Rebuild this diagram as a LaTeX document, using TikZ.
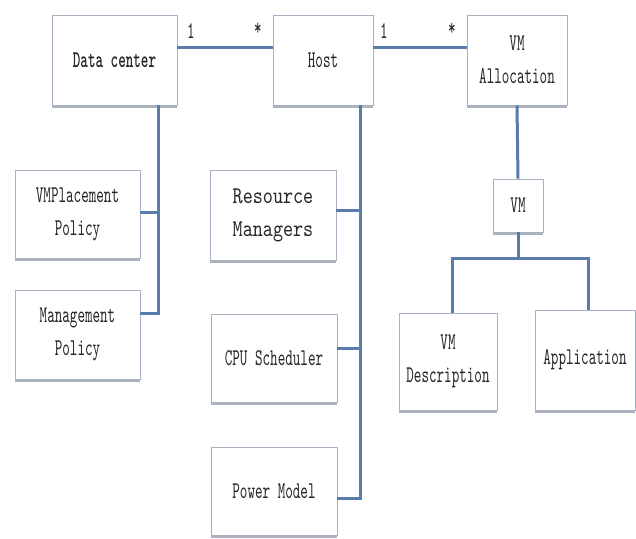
\documentclass[tikz,border=0pt]{standalone}
\usepackage{fontspec}
\usetikzlibrary{shadows}
\newfontfamily\boxfamily[FakeStretch=0.6,BoldFont=lmmonolt10-bold.otf]{lmmono10-regular.otf}
\newfontfamily\wideboxfamily[FakeStretch=0.8]{lmmono10-regular.otf}
\newcommand\boxfont{\boxfamily\fontsize{24}{33}\selectfont}
\newcommand\wideboxfont{\wideboxfamily\fontsize{24}{33}\selectfont}
\definecolor{linkblue}{RGB}{88,125,172}
\definecolor{edgegray}{RGB}{168,178,194}
\begin{document}
\begin{tikzpicture}[
    x=1pt,y=-1pt,
    unit/.style={draw=edgegray,fill=white,line width=0.8pt,inner sep=0pt,
      align=center,text=black!85,font=\boxfont,
      drop shadow={shadow xshift=0pt,shadow yshift=-2.5pt,fill=edgegray!90!black,opacity=0.8}},
    mult/.style={inner sep=0pt,text=black!85,font=\boxfont},
    link/.style={draw=linkblue,line width=3pt}
    ]
    \useasboundingbox (0,0) rectangle (636,538);

    % top row
    \node[unit,minimum width=125,minimum height=90,font=\boxfont\bfseries] (dc) at (114.5,60) {Data center};
    \node[unit,minimum width=100,minimum height=90] (host) at (323,60) {Host};
    \node[unit,minimum width=100,minimum height=90] (alloc) at (517,60) {VM\\Allocation};

    % data center parts
    \node[unit,minimum width=125,minimum height=88] (vmp) at (77.5,214) {VMPlacement\\Policy};
    \node[unit,minimum width=125,minimum height=89] (mgmt) at (77.5,334.5) {Management\\Policy};

    % host parts
    \node[unit,minimum width=126,minimum height=90,font=\wideboxfont] (res) at (273,215) {Resource\\Managers};
    \node[unit,minimum width=126,minimum height=88] (cpu) at (274,358) {CPU Scheduler};
    \node[unit,minimum width=126,minimum height=88] (power) at (274,491) {Power Model};

    % vm
    \node[unit,minimum width=50,minimum height=53] (vm) at (518,205.5) {VM};
    \node[unit,minimum width=98,minimum height=97] (vmdesc) at (448,361.5) {VM\\Description};
    \node[unit,minimum width=100,minimum height=100] (app) at (585,360) {Application};

    % multiplicities
    \node[mult] (m1) at (191,31) {1};
    \node[mult] (m2) at (258,29) {*};
    \node[mult] (m3) at (384,31) {1};
    \node[mult] (m4) at (452,29) {*};

    \coordinate (dctrunk) at (158,313);
    \coordinate (hosttrunk) at (360,498);
    \coordinate (vmfork) at (518,258);

    % associations
    \draw[link] ([yshift=13pt]dc.east) -- ([yshift=13pt]host.west);
    \draw[link] ([yshift=13pt]host.east) -- ([yshift=13pt]alloc.west);

    \draw[link] ([xshift=43.5pt]dc.south) -- (dctrunk) -- (dctrunk -| mgmt.east);
    \draw[link] ([yshift=2pt]vmp.east) -- ([yshift=2pt]vmp.east -| dctrunk);

    \draw[link] ([xshift=37pt]host.south) -- (hosttrunk) -- (hosttrunk -| power.east);
    \draw[link] ([yshift=5pt]res.east) -- ([yshift=5pt]res.east -| hosttrunk);
    \draw[link] ([yshift=10pt]cpu.east) -- ([yshift=10pt]cpu.east -| hosttrunk);

    \draw[link] (alloc.south) -- (vm.north);
    \draw[link] (vm.south) -- (vmfork);
    \draw[link] ([xshift=4pt]vmdesc.north) |- (vmfork) -| ([xshift=3pt]app.north);
  \end{tikzpicture}
\end{document}
